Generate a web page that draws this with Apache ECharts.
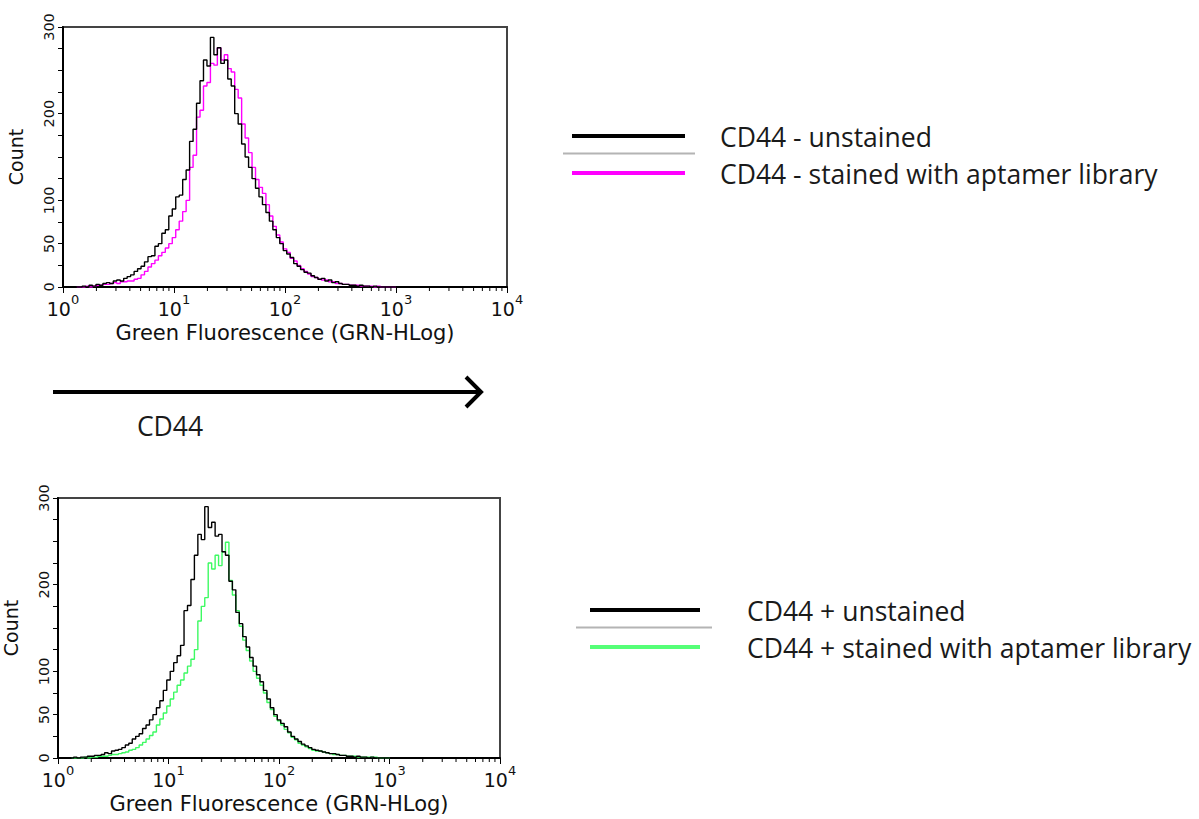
<!DOCTYPE html>
<html><head><meta charset="utf-8">
<script src="https://cdn.jsdelivr.net/npm/echarts@6/dist/echarts.min.js"></script>
<style>html,body{margin:0;padding:0;background:#fff}#chart{width:1199px;height:819px}</style>
</head><body><div id="chart"></div>
<script>
// Histogram bins: bin k sits at 10^(k/binsPerDecade), starting at k = firstBin
const binsPerDecade = 32;
const firstBin = 4;

const cd44MinusUnstained = [
  0,0,1,0,2,1,3,2,4,5,
  4,7,8,7,10,12,14,18,21,24,
  29,35,36,47,50,62,66,82,90,104,
  106,124,135,168,182,212,238,262,255,288,
  268,276,258,262,240,232,200,188,165,150,
  138,125,114,104,95,86,76,66,57,50,
  42,38,34,27,24,20,17,16,13,11,
  9,10,7,8,5,6,4,3,3,2,
  2,1,2,1,1,0,1,0,0,0,
  0,0,0
];
const cd44MinusStained = [
  0,0,0,1,0,1,2,2,3,3,
  4,5,4,6,6,7,7,9,10,14,
  18,23,27,31,36,40,45,50,57,66,
  76,87,100,138,152,196,204,232,236,258,
  256,276,262,268,252,248,228,218,188,172,
  155,138,124,115,108,95,82,70,60,52,
  44,40,33,30,25,21,18,15,12,11,
  9,8,8,6,6,4,4,3,3,2,
  2,2,1,1,1,1,0,1,0,0,
  0,0,0
];
const cd44PlusUnstained = [
  0,1,0,1,1,2,2,3,3,4,
  6,5,8,9,10,12,15,17,22,25,
  28,34,38,44,50,58,66,78,90,100,
  110,118,130,170,176,206,234,258,252,290,
  266,272,256,258,238,234,204,194,168,155,
  140,128,116,106,96,88,78,68,58,50,
  44,40,36,30,25,22,19,16,14,12,
  10,9,8,7,6,5,5,4,3,3,
  2,2,1,2,1,1,0,1,0,0,
  0,0,0
];
const cd44PlusStained = [
  0,0,0,0,1,0,1,1,2,2,
  2,3,4,4,5,6,7,9,10,12,
  15,18,22,26,30,38,45,52,60,68,
  76,84,90,98,106,114,125,158,175,185,
  225,218,234,222,238,249,205,188,170,152,
  136,124,112,100,92,84,75,64,56,48,
  43,38,33,29,24,21,17,15,13,11,
  9,8,8,7,6,5,4,4,3,3,
  2,2,2,1,1,1,1,1,1,0,
  0,0,0
];

const xTickExponents = [0, 1, 2, 3, 4];
const yTickLabels = [0, 50, 100, 200, 300];
const minorMultipliers = [2, 3, 4, 5, 6, 7, 8, 9];
const xAxisTitle = 'Green Fluorescence (GRN-HLog)';
const yAxisTitle = 'Count';
const topLegendLabels = ['CD44 - unstained', 'CD44 - stained with aptamer library'];
const bottomLegendLabels = ['CD44 + unstained', 'CD44 + stained with aptamer library'];
const arrowLabel = 'CD44';

const toPairs = arr => arr.map((v, i) => [Math.pow(10, (firstBin + i) / binsPerDecade), v]);
const minorTicks = [];
xTickExponents.slice(0, -1).forEach(e => minorMultipliers.forEach(m => minorTicks.push([m * Math.pow(10, e), 0])));

const axisFont = '"DejaVu Sans", Verdana, sans-serif';
const legendFont = '"Open Sans", "Noto Sans", sans-serif';

function makeXAxis(gi) {
  return {
    type: 'log', logBase: 10, gridIndex: gi, min: 1, max: 10000,
    axisLine: { show: true, lineStyle: { color: '#000', width: 2 } },
    axisTick: { show: true, length: 6, lineStyle: { color: '#000', width: 1 } },
    splitLine: { show: false },
    axisLabel: {
      margin: 6,
      formatter: v => '{b|10}{s|' + Math.round(Math.log10(v)) + '}',
      rich: {
        b: { fontFamily: axisFont, fontSize: 19, color: '#111', lineHeight: 25, verticalAlign: 'bottom' },
        s: { fontFamily: axisFont, fontSize: 13, color: '#111', lineHeight: 25, verticalAlign: 'top' }
      }
    },
    name: xAxisTitle, nameLocation: 'middle', nameGap: 35,
    nameTextStyle: { fontFamily: axisFont, fontSize: 21, color: '#111' }
  };
}
function makeYAxis(gi) {
  return {
    type: 'value', gridIndex: gi, min: 0, max: 300, interval: 25,
    axisLine: { show: true, lineStyle: { color: '#000', width: 2 } },
    axisTick: { show: true, inside: false, length: 5, lineStyle: { color: '#000', width: 1 } },
    splitLine: { show: false },
    axisLabel: {
      rotate: 90, margin: 7, fontFamily: axisFont, fontSize: 14.5, color: '#111',
      formatter: v => yTickLabels.includes(v) ? String(v) : ''
    },
    name: yAxisTitle, nameLocation: 'middle', nameGap: 38, nameRotate: 90,
    nameTextStyle: { fontFamily: axisFont, fontSize: 19, color: '#111' }
  };
}
function histo(gi, data, color, z) {
  return {
    type: 'line', xAxisIndex: gi, yAxisIndex: gi, data: toPairs(data), step: 'middle',
    showSymbol: false, symbol: 'none', z: z, silent: true,
    lineStyle: { color: color, width: 1.4 }
  };
}
function minorTickSeries(gi) {
  return {
    type: 'custom', xAxisIndex: gi, yAxisIndex: gi, data: minorTicks, clip: false, silent: true, z: 6,
    encode: { x: 0, y: 1 },
    renderItem: (params, api) => {
      const p = api.coord([api.value(0), api.value(1)]);
      return { type: 'line', shape: { x1: p[0], y1: p[1], x2: p[0], y2: p[1] + 4 },
               style: { stroke: '#000', lineWidth: 1 } };
    }
  };
}

function legendBlock(y0, labels, color, lineX1, lineX2, grayX1, grayX2, textX) {
  const rows = [y0, y0 + 37];
  const font = '26.5px ' + legendFont;
  return [
    { type: 'line', shape: { x1: lineX1, y1: rows[0], x2: lineX2, y2: rows[0] }, style: { stroke: '#000', lineWidth: 4 } },
    { type: 'line', shape: { x1: grayX1, y1: (rows[0] + rows[1]) / 2 - 1, x2: grayX2, y2: (rows[0] + rows[1]) / 2 - 1 }, style: { stroke: '#b4b4b4', lineWidth: 2 } },
    { type: 'line', shape: { x1: lineX1, y1: rows[1], x2: lineX2, y2: rows[1] }, style: { stroke: color, lineWidth: 4 } },
    { type: 'text', x: textX, y: rows[0] + 1, style: { text: labels[0], font: font, fill: '#1a1a1a', align: 'left', verticalAlign: 'middle' } },
    { type: 'text', x: textX, y: rows[1] + 1, style: { text: labels[1], font: font, fill: '#1a1a1a', align: 'left', verticalAlign: 'middle' } }
  ];
}

const chart = echarts.init(document.getElementById('chart'), null, { renderer: 'svg' });
chart.setOption({
  animation: false,
  backgroundColor: '#fff',
  grid: [
    { left: 63, top: 27, width: 444, height: 260, show: true, borderColor: '#444', borderWidth: 2, backgroundColor: 'transparent' },
    { left: 55, top: 498, width: 445, height: 260, show: true, borderColor: '#444', borderWidth: 2, backgroundColor: 'transparent' }
  ],
  xAxis: [makeXAxis(0), makeXAxis(1)],
  yAxis: [makeYAxis(0), makeYAxis(1)],
  series: [
    histo(0, cd44MinusStained, '#ff00ff', 2),
    histo(0, cd44MinusUnstained, '#000000', 3),
    histo(1, cd44PlusStained, '#3dfa62', 2),
    histo(1, cd44PlusUnstained, '#000000', 3),
    minorTickSeries(0),
    minorTickSeries(1)
  ],
  graphic: [
    { type: 'line', shape: { x1: 53, y1: 392, x2: 479, y2: 392 }, style: { stroke: '#000', lineWidth: 4 } },
    { type: 'polyline', shape: { points: [[466, 377], [481, 392], [466, 407]] }, style: { stroke: '#000', lineWidth: 4, fill: null } },
    { type: 'text', x: 170, y: 426, style: { text: arrowLabel, font: '26.5px ' + legendFont, fill: '#1a1a1a', align: 'center', verticalAlign: 'middle' } }
  ].concat(
    legendBlock(136, topLegendLabels, '#ff00ff', 572, 685, 563, 695, 720),
    legendBlock(610, bottomLegendLabels, '#55ff77', 590, 700, 576, 712, 747)
  )
});
</script></body></html>
